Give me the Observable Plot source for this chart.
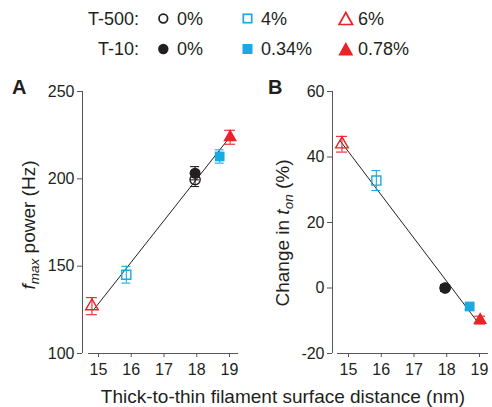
<!DOCTYPE html>
<html>
<head>
<meta charset="utf-8">
<script src="https://cdn.jsdelivr.net/npm/d3@7"></script>
<script src="https://cdn.jsdelivr.net/npm/@observablehq/plot@0.6"></script>
<style>
  html, body { margin: 0; padding: 0; background: #fff; }
  #fig { position: relative; width: 492px; height: 407px; font-family: "Liberation Sans", Arial, sans-serif; color: #231f20; overflow: hidden; }
  .panel { position: absolute; top: 75px; }
  #overlay { position: absolute; left: 0; top: 0; pointer-events: none; }
</style>
</head>
<body>
<div id="fig"></div>
<script>
// ---- data ----
const seriesNames = ["T-500 0%", "T-500 4%", "T-500 6%", "T-10 0%", "T-10 0.34%", "T-10 0.78%"];
const distance    = [17.95, 15.85, 14.80, 17.95, 18.70, 19.02];   // nm
const fmax        = [199.6, 145.1, 127.1, 203.2, 212.8, 223.8];   // Hz
const fmaxErr     = [4.0, 4.8, 4.9, 3.8, 3.8, 4.0];
const tonChange   = [0, 32.8, 43.9, 0, -5.65, -9.8];              // %
const tonErr      = [1.0, 3.05, 2.4, 1.0, 1.0, 1.2];
const fitXA = [14.85, 18.93];
const fitYA = [125.0, 222.0];
const fitXB = [14.74, 18.95];
const fitYB = [45.0, -10.5];
const xTicks  = [15, 16, 17, 18, 19];
const yTicksA = [100, 150, 200, 250];
const yTicksB = [-20, 0, 20, 40, 60];
const legendRows = ["T-500:", "T-10:"];
const legendT500 = ["0%", "4%", "6%"];
const legendT10  = ["0%", "0.34%", "0.78%"];

// ---- styles ----
const RED = "#ec2227", BLUE = "#1ba9e1", BLACK = "#231f20";
const sColor  = [BLACK, BLUE, RED, BLACK, BLUE, RED];
const sSymbol = ["circle", "square", "triangle", "circle", "square", "triangle"];
const sFilled = [false, false, false, true, true, true];
const sR      = {circle: 5.5, square: 5.5, triangle: 5.1};
const sCap    = {circle: 4.5, square: 4.5, triangle: 5.5};

const rows = seriesNames.map((name, i) => ({
  name, distance: distance[i], fmax: fmax[i], fmaxErr: fmaxErr[i],
  ton: tonChange[i], tonErr: tonErr[i],
  color: sColor[i], symbol: sSymbol[i], filled: sFilled[i]
}));
const fitA = fitXA.map((x, i) => ({x, y: fitYA[i]}));
const fitB = fitXB.map((x, i) => ({x, y: fitYB[i]}));

function seriesMarks(yKey, eKey) {
  const marks = [];
  for (const r of rows) {
    const d = [r];
    const cap = sCap[r.symbol];
    marks.push(Plot.ruleX(d, {x: "distance", y1: v => v[yKey] - v[eKey], y2: v => v[yKey] + v[eKey], stroke: r.color, strokeWidth: 1.1}));
    marks.push(Plot.ruleY(d, {x1: "distance", x2: "distance", y: v => v[yKey] + v[eKey], insetLeft: -cap, insetRight: -cap, stroke: r.color, strokeWidth: 1.1}));
    marks.push(Plot.ruleY(d, {x1: "distance", x2: "distance", y: v => v[yKey] - v[eKey], insetLeft: -cap, insetRight: -cap, stroke: r.color, strokeWidth: 1.1}));
  }
  for (const r of rows.filter(r => !r.filled)) {
    marks.push(Plot.dot([r], {x: "distance", y: yKey, symbol: r.symbol, r: sR[r.symbol] - 0.4, fill: "none", stroke: r.color, strokeWidth: 1.4}));
  }
  for (const r of rows.filter(r => r.filled)) {
    marks.push(Plot.dot([r], {x: "distance", y: yKey, symbol: r.symbol, r: sR[r.symbol], fill: r.color, stroke: "none"}));
  }
  return marks;
}

const baseStyle = {fontFamily: '"Liberation Sans", Arial, sans-serif', fontSize: "16px", color: BLACK, background: "transparent", overflow: "visible"};
const AXIS = "#555";

function panel(opts) {
  const {width, marginRight, xDomain, inset, yDomain, yTicks, fit, yKey, eKey} = opts;
  return Plot.plot({
    width, height: 310, marginLeft: 82, marginRight, marginTop: 16, marginBottom: 32,
    style: baseStyle,
    x: {domain: xDomain, insetLeft: inset},
    y: {domain: yDomain},
    marks: [
      Plot.ruleY([yDomain[0]], {insetLeft: inset, stroke: AXIS, strokeWidth: 1}),
      Plot.ruleX([xDomain[0]], {dx: -inset, stroke: AXIS, strokeWidth: 1}),
      Plot.axisX({ticks: xTicks, tickSize: 4, tickPadding: 6, label: null, stroke: AXIS, fill: BLACK, fontSize: 16, tickFormat: d => String(d)}),
      Plot.axisY({ticks: yTicks, tickSize: 5, tickPadding: 3, label: null, stroke: AXIS, fill: BLACK, fontSize: 16, tickFormat: d => String(d)}),
      Plot.line(fit, {x: "x", y: "y", stroke: BLACK, strokeWidth: 1}),
      ...seriesMarks(yKey, eKey)
    ]
  });
}

const fig = document.getElementById("fig");
const plotA = panel({width: 250, marginRight: 12, xDomain: [14.695, 19.275], inset: 6, yDomain: [100, 250], yTicks: yTicksA, fit: fitA, yKey: "fmax", eKey: "fmaxErr"});
const plotB = panel({width: 242, marginRight: 4, xDomain: [14.664, 19.275], inset: 5, yDomain: [-20, 60], yTicks: yTicksB, fit: fitB, yKey: "ton", eKey: "tonErr"});
const divA = document.createElement("div"); divA.className = "panel"; divA.style.left = "0px"; divA.appendChild(plotA);
const divB = document.createElement("div"); divB.className = "panel"; divB.style.left = "250px"; divB.appendChild(plotB);
fig.appendChild(divA); fig.appendChild(divB);

// ---- overlay text: legend, panel letters, axis titles ----
const svg = d3.select(fig).append("svg").attr("id", "overlay").attr("width", 492).attr("height", 407)
  .attr("font-family", '"Liberation Sans", Arial, sans-serif').attr("fill", BLACK);

const rowY = [18.5, 49];
const colSymX = [163.3, 247.5, 345.8];
const colTextX = [177, 261, 358];
const legendTexts = [legendT500, legendT10];
const legSym = ["circle", "square", "triangle"];
const legColor = [BLACK, BLUE, RED];
const LF = 18;
legendRows.forEach((lab, ri) => {
  const cy = rowY[ri];
  svg.append("text").attr("x", 139).attr("y", cy + 6.4).attr("text-anchor", "end").attr("font-size", LF).text(lab);
  legSym.forEach((s, ci) => {
    const cx = colSymX[ci], col = legColor[ci], filled = ri === 1;
    let el;
    if (s === "circle") {
      el = svg.append("circle").attr("cx", cx).attr("cy", cy).attr("r", filled ? 5.2 : 4.3);
    } else if (s === "square") {
      const h = filled ? 5 : 4.2;
      el = svg.append("rect").attr("x", cx - h).attr("y", cy - h).attr("width", 2 * h).attr("height", 2 * h);
    } else {
      const w = filled ? 7.5 : 6.7, top = filled ? -7 : -6, bot = filled ? 6.5 : 6;
      el = svg.append("path").attr("d", `M${cx},${cy + top}L${cx + w},${cy + bot}L${cx - w},${cy + bot}Z`);
    }
    if (filled) el.attr("fill", col).attr("stroke", "none");
    else el.attr("fill", "none").attr("stroke", col).attr("stroke-width", 1.7);
    svg.append("text").attr("x", colTextX[ci]).attr("y", cy + 6.4).attr("font-size", LF).text(legendTexts[ri][ci]);
  });
});

// panel letters
svg.append("text").attr("x", 12).attr("y", 94).attr("font-size", 20).attr("font-weight", "bold").text("A");
svg.append("text").attr("x", 268).attr("y", 94).attr("font-size", 20).attr("font-weight", "bold").text("B");

// y-axis titles
const TF = 19;
const tA = svg.append("text").attr("transform", "translate(35,225) rotate(-90)").attr("text-anchor", "middle").attr("font-size", TF);
tA.append("tspan").attr("font-style", "italic").text("f");
tA.append("tspan").attr("font-style", "italic").attr("font-size", 13.5).attr("dy", 4).text("max");
tA.append("tspan").attr("dy", -4).text(" power (Hz)");

const tB = svg.append("text").attr("transform", "translate(289,233) rotate(-90)").attr("text-anchor", "middle").attr("font-size", TF);
tB.append("tspan").text("Change in ");
tB.append("tspan").attr("font-style", "italic").text("t");
tB.append("tspan").attr("font-style", "italic").attr("font-size", 13.5).attr("dy", 4).text("on");
tB.append("tspan").attr("dy", -4).text(" (%)");

// x-axis title
svg.append("text").attr("x", 283).attr("y", 403).attr("text-anchor", "middle").attr("font-size", 19).text("Thick-to-thin filament surface distance (nm)");
</script>
</body>
</html>
